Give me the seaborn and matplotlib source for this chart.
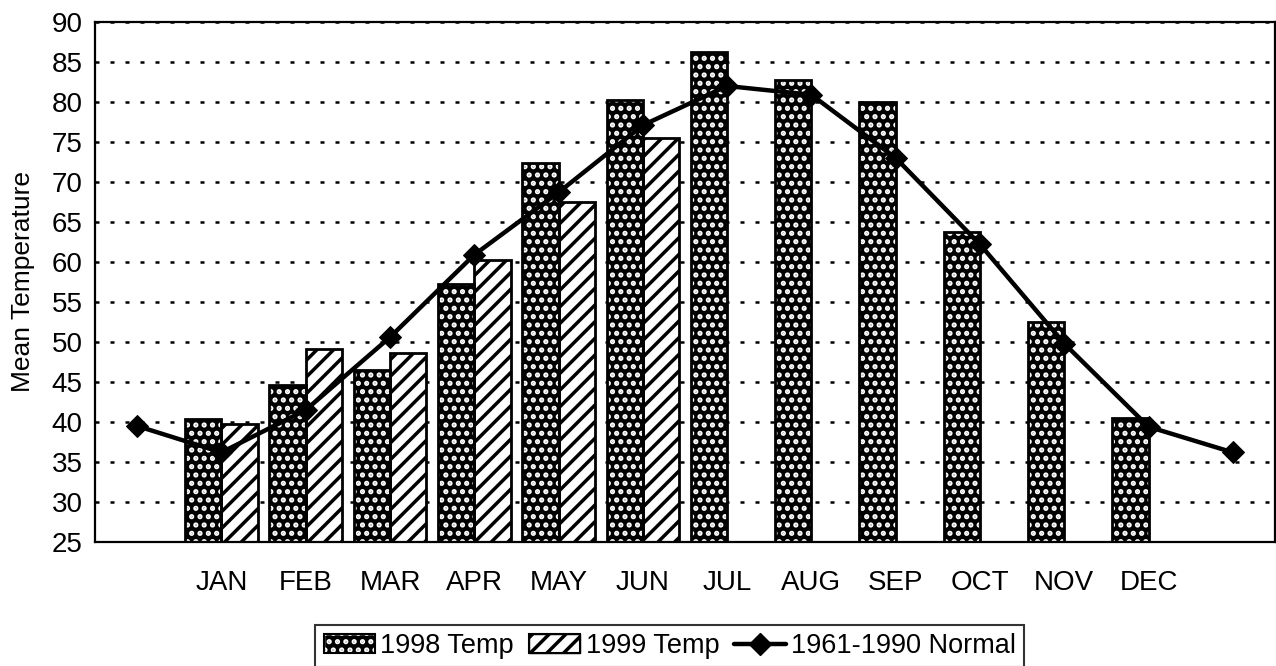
import numpy as np
import pandas as pd
import seaborn as sns
import matplotlib.pyplot as plt
from matplotlib.patches import Patch
from matplotlib.lines import Line2D

# chart data (14 slots: an empty one either side of the months)
slots = ["pre", "JAN", "FEB", "MAR", "APR", "MAY", "JUN", "JUL", "AUG", "SEP", "OCT", "NOV", "DEC", "post"]
tick_labels = ["", "JAN", "FEB", "MAR", "APR", "MAY", "JUN", "JUL", "AUG", "SEP", "OCT", "NOV", "DEC", ""]
temp_1998 = [np.nan, 40.4, 44.6, 46.5, 57.2, 72.4, 80.2, 86.3, 82.8, 80.0, 63.8, 52.5, 40.5, np.nan]
temp_1999 = [np.nan, 39.7, 49.1, 48.6, 60.3, 67.5, 75.5, np.nan, np.nan, np.nan, np.nan, np.nan, np.nan, np.nan]
normal = [39.5, 36.2, 41.5, 50.6, 60.9, 68.7, 77.1, 82.0, 80.9, 73.0, 62.2, 49.8, 39.4, 36.2]
series = ["1998 Temp", "1999 Temp"]

sns.set_theme(style="white")
plt.rcParams["font.family"] = ["Liberation Sans", "DejaVu Sans"]
plt.rcParams["hatch.linewidth"] = 2.5
for k in ["text.color", "axes.labelcolor", "xtick.color", "ytick.color"]:
    plt.rcParams[k] = "black"

df = pd.DataFrame({"Month": slots * 2,
                   "Temp": temp_1998 + temp_1999,
                   "Series": [series[0]] * len(slots) + [series[1]] * len(slots)})

fig = plt.figure(figsize=(12.76, 6.66), dpi=100)
ax = fig.add_axes([95 / 1276, 1 - 542 / 666, 1180 / 1276, 520 / 666])

# filled bars: 1998 black with white dot pattern, 1999 white with black stripes
sns.barplot(data=df, x="Month", y="Temp", hue="Series", order=slots, hue_order=series,
            palette=["black", "white"], width=0.86, edgecolor="black", linewidth=0,
            saturation=1, legend=False, ax=ax)
for bar in ax.containers[0]:
    bar.set_edgecolor("white")
    bar.set_hatch("..")
for bar in ax.containers[1]:
    bar.set_hatch("//")
# outlines on top
sns.barplot(data=df, x="Month", y="Temp", hue="Series", order=slots, hue_order=series,
            palette=["black", "black"], width=0.86, fill=False, linewidth=2,
            saturation=1, legend=False, ax=ax)

sns.lineplot(x=np.arange(len(slots)), y=normal, color="black", linewidth=3.2,
             marker="D", markersize=11, markeredgecolor="black", ax=ax, zorder=5)

ax.set_ylim(25, 90)
ax.set_xlim(-0.5, len(slots) - 0.5)
ax.set_yticks(np.arange(25, 91, 5))
ax.yaxis.grid(True, color="black", linestyle=(0, (1.6, 4.4)), linewidth=1.8)
ax.set_axisbelow(True)

ax.set_xticks(np.arange(0.5, len(slots) - 1, 1))
ax.set_xticklabels([])
ax.set_xticks(np.arange(len(slots)), minor=True)
ax.set_xticklabels(tick_labels, minor=True, fontsize=20)
ax.tick_params(axis="x", which="major", direction="in", length=6, width=1, color="black")
ax.tick_params(axis="x", which="minor", length=0, pad=20)
ax.tick_params(axis="y", direction="inout", length=10, width=1.2, color="black", labelsize=20, pad=4)
ax.set_xlabel("")
ax.set_ylabel("Mean Temperature", fontsize=19, labelpad=12)

for s in ax.spines.values():
    s.set_visible(True)
    s.set_color("black")
    s.set_linewidth(1.6)

p98 = Patch(facecolor="black", edgecolor="white", hatch="..")
p99 = Patch(facecolor="white", edgecolor="black", hatch="//")
box = Patch(facecolor="none", edgecolor="black", linewidth=1.5)
handles = [(p98, box), (p99, box),
           Line2D([0], [0], color="black", linewidth=3.2, marker="D", markersize=11)]
leg = fig.legend(handles=handles, labels=series + ["1961-1990 Normal"], loc="center",
                 bbox_to_anchor=(0.525, 1 - 646 / 666), ncol=3,
                 fontsize=19.5, frameon=True, fancybox=False, edgecolor="black", handlelength=1.9,
                 handletextpad=0.2, columnspacing=0.55, borderpad=0.3)
leg.get_frame().set_linewidth(1.5)

fig.savefig("out.png", dpi=100, facecolor="white")
